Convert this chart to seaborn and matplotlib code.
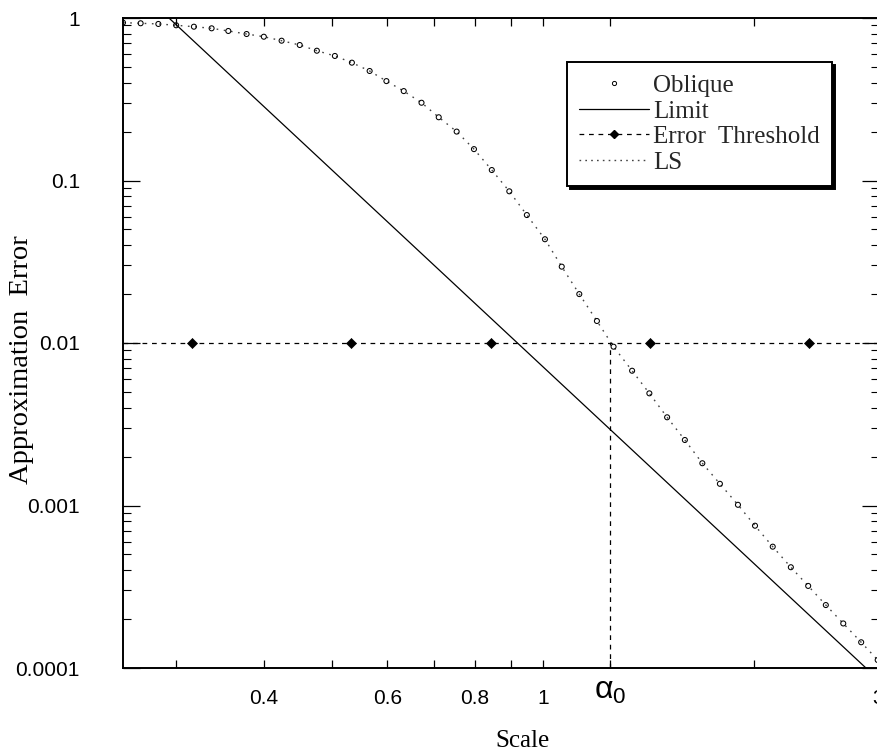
import matplotlib
matplotlib.use("Agg")
import numpy as np
import pandas as pd
import matplotlib.pyplot as plt
import seaborn as sns
from matplotlib.lines import Line2D
from matplotlib.transforms import ScaledTranslation
from matplotlib.ticker import FixedLocator, FixedFormatter, NullLocator, LogLocator, NullFormatter

# ---------------- data ----------------
oblique_x = [0.252, 0.267, 0.283, 0.300, 0.318, 0.337, 0.356, 0.378, 0.400, 0.424,
             0.450, 0.476, 0.505, 0.534, 0.566, 0.598, 0.633, 0.671, 0.710, 0.753,
             0.797, 0.845, 0.895, 0.948, 1.006, 1.063, 1.126, 1.193, 1.260, 1.339,
             1.417, 1.502, 1.592, 1.686, 1.786, 1.895, 2.004, 2.124, 2.254, 2.386,
             2.528, 2.677, 2.839, 2.997]
oblique_y = [0.936, 0.928, 0.919, 0.902, 0.884, 0.864, 0.832, 0.797, 0.767, 0.725,
             0.682, 0.629, 0.584, 0.531, 0.472, 0.409, 0.355, 0.301, 0.245, 0.200,
             0.156, 0.116, 0.0858, 0.0613, 0.0435, 0.0295, 0.0200, 0.01366, 0.00949, 0.00675,
             0.00490, 0.00349, 0.00253, 0.00182, 0.00136, 0.00101, 0.000751, 0.000558, 0.000417, 0.000320,
             0.000244, 0.000188, 0.000144, 0.000112]
ls_x = oblique_x
ls_y = oblique_y

limit_x = [0.293, 2.884]
limit_y = [1.0, 0.0001]

threshold_level = 0.01
threshold_marker_x = [0.316, 0.533, 0.843, 1.42, 2.39]
threshold_marker_y = [0.01, 0.01, 0.01, 0.01, 0.01]

alpha0 = 1.246

x_tick_pos = [0.3, 0.4, 0.5, 0.6, 0.7, 0.8, 0.9, 1.0, alpha0, 2.0, 3.0]
x_tick_lab = ["", "0.4", "", "0.6", "", "0.8", "", "1", r"$\mathregular{\alpha_0}$", "", "3"]
y_tick_pos = [0.0001, 0.001, 0.01, 0.1, 1.0]
y_tick_lab = ["0.0001", "0.001", "0.01", "0.1", "1"]

legend_labels = ["Oblique", "Limit", "Error  Threshold", "LS"]

# ---------------- style ----------------
sns.set_theme(style="ticks")
plt.rcParams['font.family'] = ['Liberation Sans', 'DejaVu Sans']
SERIF = ['Liberation Serif', 'DejaVu Serif']

fig = plt.figure(figsize=(8.78, 7.56), dpi=100)
fig.patch.set_facecolor('white')
ax = fig.add_axes([123 / 878, 88 / 756, 756 / 878, 650 / 756])
ax.set_facecolor('white')
ax.set_xscale('log')
ax.set_yscale('log')

dash = (0, (3.8, 3.8))
dots = (0, (1.2, 4.0))

# LS dotted curve
df_ls = pd.DataFrame({'x': ls_x, 'y': ls_y})
sns.lineplot(data=df_ls, x='x', y='y', ax=ax, color='#444444', lw=1.0,
             linestyle=dots, estimator=None, sort=True, legend=False)

# Oblique points
df_ob = pd.DataFrame({'x': oblique_x, 'y': oblique_y})
sns.scatterplot(data=df_ob, x='x', y='y', ax=ax, marker='o', s=13,
                facecolor='none', edgecolor='black', linewidth=0.75, legend=False, zorder=4)

# Limit line
df_lim = pd.DataFrame({'x': limit_x, 'y': limit_y})
sns.lineplot(data=df_lim, x='x', y='y', ax=ax, color='black', lw=0.9,
             estimator=None, legend=False)

# Error threshold
ax.axhline(threshold_level, color='black', lw=0.9, linestyle=dash)
sns.scatterplot(x=threshold_marker_x, y=threshold_marker_y, ax=ax, marker='D', s=26,
                color='black', edgecolor='black', linewidth=0.5, legend=False, zorder=5)

# alpha0 vertical dashed line
ax.plot([alpha0, alpha0], [0.0001, threshold_level], color='black', lw=0.9, linestyle=dash)

ax.set_xlim(0.252, 3.01)
ax.set_ylim(0.0001, 1.0)

# ---------------- ticks ----------------
ax.xaxis.set_major_locator(FixedLocator(x_tick_pos))
ax.xaxis.set_major_formatter(FixedFormatter(x_tick_lab))
ax.xaxis.set_minor_locator(NullLocator())
ax.yaxis.set_major_locator(FixedLocator(y_tick_pos))
ax.yaxis.set_major_formatter(FixedFormatter(y_tick_lab))
ax.yaxis.set_minor_locator(LogLocator(base=10, subs=np.arange(2, 10)))
ax.yaxis.set_minor_formatter(NullFormatter())

ax.tick_params(which='both', direction='in', top=True, right=True, colors='black')
ax.tick_params(axis='x', which='major', length=6, width=0.9, pad=15, labelsize=15)
ax.tick_params(axis='y', which='major', length=12, width=0.9, pad=31, labelsize=15)
ax.tick_params(axis='y', which='minor', length=6, width=0.8)
for lab in ax.get_xticklabels():
    if 'alpha' in lab.get_text():
        lab.set_fontsize(23)
        lab.set_transform(lab.get_transform() + ScaledTranslation(0, 9 / 72, fig.dpi_scale_trans))

for sp in ax.spines.values():
    sp.set_color('black')
    sp.set_linewidth(1.4)

ax.set_xlabel('Scale', fontsize=18, family=SERIF, color='black')
ax.set_ylabel('Approximation  Error', fontsize=20.5, family=SERIF, color='black')
ax.xaxis.set_label_coords(0.529, -0.095)
ax.yaxis.set_label_coords(-0.118, 0.474)

# ---------------- legend ----------------
handles = [
    Line2D([], [], marker='o', ls='none', mfc='none', mec='black', ms=3, mew=0.7),
    Line2D([], [], color='black', lw=0.9),
    Line2D([], [], color='black', lw=0.9, linestyle=dash, marker='D', ms=4.5),
    Line2D([], [], color='#444444', lw=1.0, linestyle=(0, (1.2, 3.0))),
]
leg = ax.legend(handles, legend_labels, loc='upper left', bbox_to_anchor=(0.587, 0.932),
                borderaxespad=0, frameon=True, fancybox=False,
                shadow={'facecolor': 'black', 'edgecolor': 'black', 'alpha': 1},
                prop={'family': SERIF, 'size': 18}, handlelength=2.8, handletextpad=0.15,
                labelspacing=0.12, borderpad=0.5)
fr = leg.get_frame()
fr.set_edgecolor('black')
fr.set_linewidth(1.4)
fr.set_alpha(1)
fr.set_facecolor('white')

fig.savefig('out.png', dpi=100, facecolor='white')
